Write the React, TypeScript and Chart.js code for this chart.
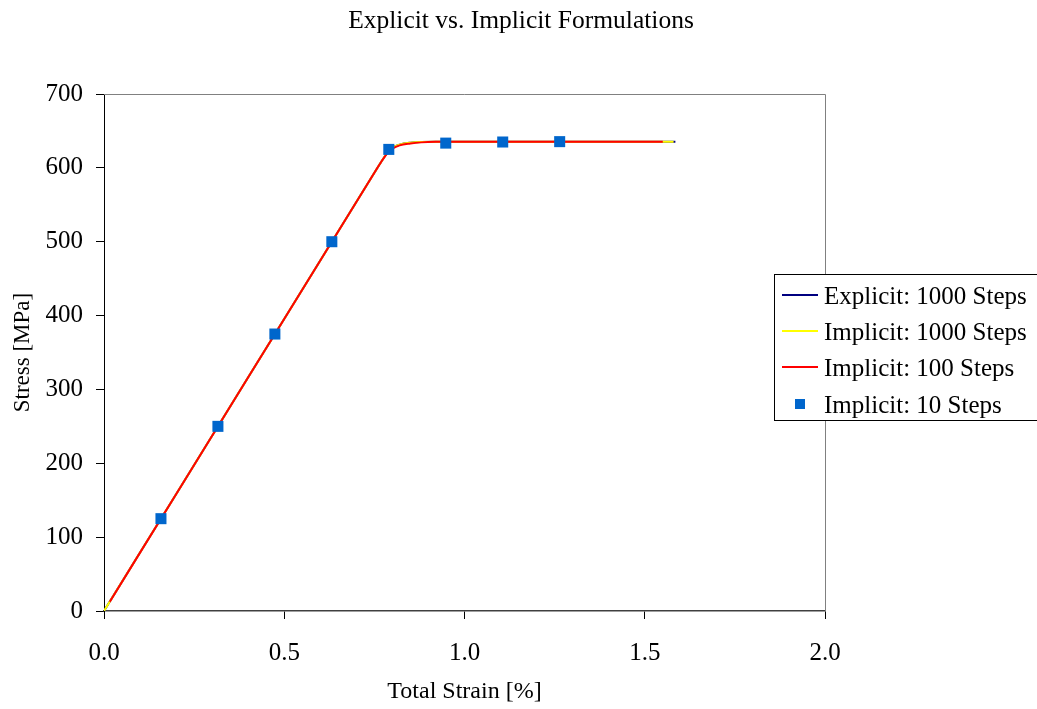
import React, { useEffect, useRef } from "react";
import { Chart, registerables } from "chart.js";

Chart.register(...registerables);

const chartTitle = "Explicit vs. Implicit Formulations";
const xAxisTitle = "Total Strain [%]";
const yAxisTitle = "Stress [MPa]";
const xTicks = [0, 0.5, 1.0, 1.5, 2.0];
const yTicks = [0, 100, 200, 300, 400, 500, 600, 700];

const seriesLabels = [
  "Explicit: 1000 Steps",
  "Implicit: 1000 Steps",
  "Implicit: 100 Steps",
  "Implicit: 10 Steps",
];

const explicit1000Strain = [0, 0.2, 0.4, 0.6, 0.75, 0.77, 0.79, 0.8, 0.82, 0.85, 0.88, 0.92, 1.0, 1.585];
const explicit1000Stress = [0, 158.2, 316.4, 474.6, 593.3, 609, 623, 627.5, 631.5, 634, 635, 635.5, 635.5, 635.5];

const implicit1000Strain = [0, 0.2, 0.4, 0.6, 0.75, 0.77, 0.79, 0.8, 0.82, 0.85, 0.88, 0.92, 1.0, 1.58];
const implicit1000Stress = [0, 158.2, 316.4, 474.6, 593.3, 609, 623, 627.5, 631.5, 634, 635, 635.5, 635.5, 635.5];

const implicit100Strain = [0.016, 0.2, 0.4, 0.6, 0.75, 0.77, 0.79, 0.8, 0.82, 0.85, 0.88, 0.92, 1.0, 1.55];
const implicit100Stress = [12.6, 158.2, 316.4, 474.6, 593.3, 609, 622, 626, 630.5, 633, 634.5, 635.3, 635.5, 635.5];

const implicit10Strain = [0.158, 0.316, 0.474, 0.632, 0.79, 0.948, 1.106, 1.264];
const implicit10Stress = [125, 250, 375, 500, 625, 633.5, 635, 635.5];

const seriesColors = ["#000080", "#FFFF00", "#FF0000", "#0066CC"];

const FONT = "'Liberation Serif', 'Times New Roman', serif";

const toPoints = (xs: number[], ys: number[]) => xs.map((x, i) => ({ x, y: ys[i] }));

const framePlugin = {
  id: "frame",
  afterDraw(chart: any) {
    const { ctx, chartArea } = chart;
    ctx.save();
    ctx.strokeStyle = "#808080";
    ctx.lineWidth = 1;
    ctx.beginPath();
    ctx.moveTo(chartArea.left, Math.round(chartArea.top) + 0.5);
    ctx.lineTo(Math.round(chartArea.right) + 0.5, Math.round(chartArea.top) + 0.5);
    ctx.lineTo(Math.round(chartArea.right) + 0.5, chartArea.bottom);
    ctx.stroke();

    // title, centred on the whole canvas
    ctx.fillStyle = "#000";
    ctx.font = `25.5px ${FONT}`;
    ctx.textAlign = "center";
    ctx.textBaseline = "middle";
    ctx.fillText(chartTitle, 521, 21);

    // legend box
    const bx = 774.5, by = 274.5, bw = 280, bh = 146;
    ctx.fillStyle = "#ffffff";
    ctx.fillRect(bx, by, bw, bh);
    ctx.strokeStyle = "#000000";
    ctx.strokeRect(bx, by, bw, bh);
    const rows = [295, 331, 367, 404];
    ctx.font = `25px ${FONT}`;
    ctx.textBaseline = "middle";
    ctx.textAlign = "left";
    seriesLabels.forEach((label, i) => {
      const y = rows[i];
      if (i < 3) {
        ctx.strokeStyle = seriesColors[i];
        ctx.lineWidth = 2;
        ctx.beginPath();
        ctx.moveTo(782, y);
        ctx.lineTo(818, y);
        ctx.stroke();
      } else {
        ctx.fillStyle = seriesColors[i];
        ctx.fillRect(795, y - 5, 10, 10);
      }
      ctx.fillStyle = "#000000";
      ctx.fillText(label, 824, y + 2);
    });
    ctx.restore();
  },
};

export default function App() {
  const ref = useRef<HTMLCanvasElement | null>(null);

  useEffect(() => {
    if (!ref.current) return;
    const chart = new Chart(ref.current, {
      type: "line",
      data: {
        datasets: [
          {
            label: seriesLabels[3],
            data: toPoints(implicit10Strain, implicit10Stress),
            showLine: false,
            pointStyle: "rect",
            pointRadius: 7.8,
            pointBorderWidth: 0,
            pointBackgroundColor: seriesColors[3],
            backgroundColor: seriesColors[3],
            borderColor: seriesColors[3],
            order: 0,
          },
          {
            label: seriesLabels[2],
            data: toPoints(implicit100Strain, implicit100Stress),
            borderColor: seriesColors[2],
            borderWidth: 2,
            pointRadius: 0,
            cubicInterpolationMode: "monotone",
            order: 1,
          },
          {
            label: seriesLabels[1],
            data: toPoints(implicit1000Strain, implicit1000Stress),
            borderColor: seriesColors[1],
            borderWidth: 2,
            pointRadius: 0,
            cubicInterpolationMode: "monotone",
            order: 2,
          },
          {
            label: seriesLabels[0],
            data: toPoints(explicit1000Strain, explicit1000Stress),
            borderColor: seriesColors[0],
            borderWidth: 2,
            pointRadius: 0,
            cubicInterpolationMode: "monotone",
            order: 3,
          },
        ],
      },
      options: {
        responsive: false,
        animation: false,
        devicePixelRatio: 1,
        layout: { padding: { left: 0, right: 212, top: 94, bottom: 0 } },
        plugins: {
          legend: { display: false },
          tooltip: { enabled: false },
          title: { display: false },
        },
        scales: {
          x: {
            type: "linear",
            min: 0,
            max: 2,
            afterBuildTicks: (s: any) => {
              s.ticks = xTicks.map((v) => ({ value: v }));
            },
            afterFit: (s: any) => {
              s.height = 98;
            },
            ticks: {
              color: "#000",
              font: { family: FONT, size: 25 },
              padding: 19,
              maxRotation: 0,
              callback: (v: any) => Number(v).toFixed(1),
            },
            grid: {
              drawOnChartArea: false,
              drawTicks: true,
              tickLength: 8,
              color: "#000",
            },
            border: { color: "#404040", width: 1.5 },
            title: {
              display: true,
              text: xAxisTitle,
              color: "#000",
              font: { family: FONT, size: 24 },
              padding: { top: 0, bottom: 3 },
            },
          },
          y: {
            type: "linear",
            min: 0,
            max: 700,
            afterBuildTicks: (s: any) => {
              s.ticks = yTicks.map((v) => ({ value: v }));
            },
            afterFit: (s: any) => {
              s.width = 104;
            },
            ticks: {
              color: "#000",
              font: { family: FONT, size: 25 },
              padding: 13,
            },
            grid: {
              drawOnChartArea: false,
              drawTicks: true,
              tickLength: 8,
              color: "#000",
            },
            border: { color: "#000", width: 1 },
            title: {
              display: true,
              text: yAxisTitle,
              color: "#000",
              font: { family: FONT, size: 23 },
              padding: { top: 9, bottom: 0 },
            },
          },
        },
      },
      plugins: [framePlugin],
    } as any);
    return () => chart.destroy();
  }, []);

  return (
    <div style={{ position: "fixed", left: 0, top: 0, width: 1037, height: 709, background: "#fff" }}>
      <canvas ref={ref} width={1037} height={709} style={{ width: 1037, height: 709, display: "block" }} />
    </div>
  );
}
